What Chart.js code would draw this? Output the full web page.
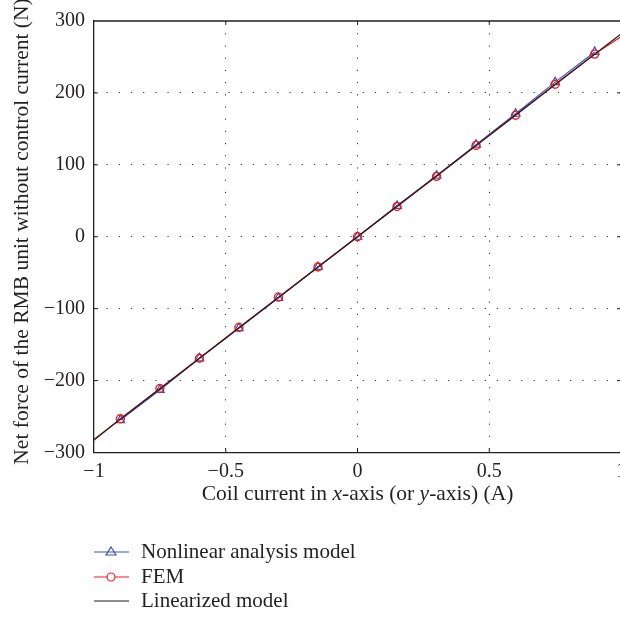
<!DOCTYPE html>
<html>
<head>
<meta charset="utf-8">
<script src="https://cdn.jsdelivr.net/npm/chart.js@4/dist/chart.umd.min.js"></script>
<style>
  html, body { margin: 0; padding: 0; background: #fff; overflow: hidden; }
  #wrap { width: 650px; height: 621px; }
</style>
</head>
<body>
<div id="wrap"><canvas id="chart" width="650" height="621"></canvas></div>
<script>
// coil current (A) and net force (N) values
const currents = [-0.9, -0.75, -0.6, -0.45, -0.3, -0.15, 0, 0.15, 0.3, 0.45, 0.6, 0.75, 0.9];
const nonlinearForce = [-255, -213, -169, -127, -85, -42, 0, 43, 85, 128, 171, 215, 257];
const femCurrents = [-1, -0.9, -0.75, -0.6, -0.45, -0.3, -0.15, 0, 0.15, 0.3, 0.45, 0.6, 0.75, 0.9, 1];
const femForce = [-283, -253, -211, -169, -126, -84, -42, 0, 42, 84, 127, 169, 212, 254, 278];
const linearCurrents = [-1, 1];
const linearForce = [-282, 282];

const xTicks = [-1, -0.5, 0, 0.5, 1];
const yTicks = [-300, -200, -100, 0, 100, 200, 300];
const seriesNames = ['Nonlinear analysis model', 'FEM', 'Linearized model'];

const FONT = '"Liberation Serif", "DejaVu Serif", serif';
const INK = '#231f20';
const BLUE = '#3a56b0';
const RED = '#ed1c24';

function pts(xs, ys) {
  return xs.map((x, i) => ({ x: x, y: ys[i] }));
}
function minus(v) {
  return String(v).replace('-', '\u2212');
}

// frame, inward ticks, axis titles, legend
const decorations = {
  id: 'decorations',
  afterDraw(chart) {
    const ctx = chart.ctx;
    const a = chart.chartArea;
    const xs = chart.scales.x, ys = chart.scales.y;
    ctx.save();
    ctx.strokeStyle = INK;
    ctx.lineWidth = 1.3;
    ctx.beginPath();
    ctx.moveTo(a.left, a.top); ctx.lineTo(a.right, a.top); ctx.lineTo(a.right, a.bottom);
    ctx.stroke();
    ctx.lineWidth = 1;
    ctx.beginPath();
    xTicks.slice(1, -1).forEach(v => {
      const px = xs.getPixelForValue(v);
      ctx.moveTo(px, a.bottom); ctx.lineTo(px, a.bottom - 4);
      ctx.moveTo(px, a.top); ctx.lineTo(px, a.top + 4);
    });
    yTicks.slice(1, -1).forEach(v => {
      const py = ys.getPixelForValue(v);
      ctx.moveTo(a.left, py); ctx.lineTo(a.left + 4, py);
      ctx.moveTo(a.right, py); ctx.lineTo(a.right - 4, py);
    });
    ctx.stroke();

    ctx.fillStyle = INK;
    ctx.textBaseline = 'middle';

    // x title with italic axis letters
    const parts = [['Coil current in ', false], ['x', true], ['-axis (or ', false], ['y', true], ['-axis) (A)', false]];
    const fontFor = it => (it ? 'italic ' : '') + '21.5px ' + FONT;
    let total = 0;
    parts.forEach(p => { ctx.font = fontFor(p[1]); total += ctx.measureText(p[0]).width; });
    let cx = (a.left + a.right) / 2 - total / 2;
    ctx.textAlign = 'left';
    parts.forEach(p => {
      ctx.font = fontFor(p[1]);
      ctx.fillText(p[0], cx, 494);
      cx += ctx.measureText(p[0]).width;
    });

    // y title
    ctx.save();
    ctx.translate(22, 231.5);
    ctx.rotate(-Math.PI / 2);
    ctx.textAlign = 'center';
    ctx.font = '21.5px ' + FONT;
    ctx.fillText('Net force of the RMB unit without control current (N)', 0, 0);
    ctx.restore();

    // legend
    const rows = [552, 577, 601];
    chart.data.datasets.forEach((ds, i) => {
      const y = rows[i];
      ctx.strokeStyle = ds.borderColor;
      ctx.lineWidth = 1.2;
      ctx.beginPath();
      ctx.moveTo(94, y); ctx.lineTo(129, y);
      ctx.stroke();
      if (ds.pointStyle === 'triangle') {
        ctx.beginPath();
        ctx.moveTo(111, y - 5); ctx.lineTo(116, y + 3); ctx.lineTo(106, y + 3); ctx.closePath();
        ctx.stroke();
      } else if (ds.pointStyle === 'circle' && ds.legendMarker) {
        ctx.beginPath();
        ctx.fillStyle = '#fff';
        ctx.arc(111, y, 4, 0, Math.PI * 2);
        ctx.fill();
        ctx.stroke();
      }
      ctx.fillStyle = INK;
      ctx.font = '21px ' + FONT;
      ctx.textAlign = 'left';
      ctx.fillText(seriesNames[i], 141, y);
    });
    ctx.restore();
  }
};

const dotted = (ctx) => {
  const v = ctx.tick && ctx.tick.value;
  return v === ctx.scale.min || v === ctx.scale.max ? 'rgba(0,0,0,0)' : '#333';
};

new Chart(document.getElementById('chart'), {
  type: 'scatter',
  data: {
    datasets: [
      {
        label: seriesNames[0],
        data: pts(currents, nonlinearForce),
        showLine: true,
        borderColor: BLUE,
        backgroundColor: 'rgba(0,0,0,0)',
        borderWidth: 1.2,
        pointStyle: 'triangle',
        pointRadius: 5,
        pointBorderWidth: 1.2,
        order: 2
      },
      {
        label: seriesNames[1],
        data: pts(femCurrents, femForce),
        showLine: true,
        borderColor: RED,
        backgroundColor: 'rgba(0,0,0,0)',
        borderWidth: 1.2,
        pointStyle: 'circle',
        legendMarker: true,
        pointRadius: femCurrents.map(x => (Math.abs(x) === 1 ? 0 : 4)),
        pointBorderWidth: 1.4,
        order: 1
      },
      {
        label: seriesNames[2],
        data: pts(linearCurrents, linearForce),
        showLine: true,
        borderColor: INK,
        backgroundColor: 'rgba(0,0,0,0)',
        borderWidth: 1.3,
        pointRadius: 0,
        order: 0
      }
    ]
  },
  options: {
    responsive: false,
    animation: false,
    devicePixelRatio: 1,
    layout: { padding: { top: 13, right: 29, left: 0, bottom: 0 } },
    plugins: { legend: { display: false }, tooltip: { enabled: false } },
    scales: {
      x: {
        type: 'linear',
        min: -1, max: 1,
        afterFit: s => { s.height = 168.5; },
        afterBuildTicks: s => { s.ticks = xTicks.map(v => ({ value: v })); },
        ticks: {
          color: INK,
          padding: 7,
          font: { family: FONT, size: 20 },
          maxRotation: 0,
          callback: v => minus(v)
        },
        grid: { color: dotted, lineWidth: 1, drawTicks: false },
        border: { display: true, color: INK, width: 1.3, dash: [1.2, 11] }
      },
      y: {
        type: 'linear',
        min: -300, max: 300,
        afterFit: s => { s.width = 94; },
        afterBuildTicks: s => { s.ticks = yTicks.map(v => ({ value: v })); },
        ticks: {
          color: INK,
          padding: 9,
          font: { family: FONT, size: 20 },
          callback: v => minus(v)
        },
        grid: { color: dotted, lineWidth: 1, drawTicks: false },
        border: { display: true, color: INK, width: 1.3, dash: [1.2, 11] }
      }
    }
  },
  plugins: [decorations]
});
</script>
</body>
</html>
